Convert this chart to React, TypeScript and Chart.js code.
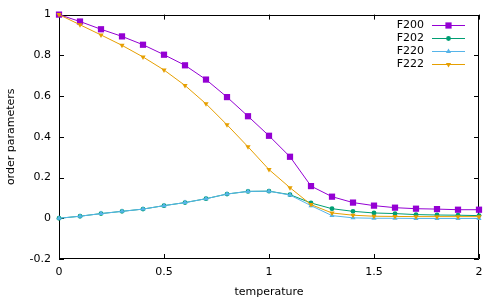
import React, { useEffect, useRef } from "react";
import { Chart, registerables } from "chart.js";

Chart.register(...registerables);

const temperature = [0, 0.1, 0.2, 0.3, 0.4, 0.5, 0.6, 0.7, 0.8, 0.9, 1.0, 1.1, 1.2, 1.3, 1.4, 1.5, 1.6, 1.7, 1.8, 1.9, 2.0];
const F200 = [1.0, 0.966, 0.928, 0.893, 0.852, 0.803, 0.751, 0.681, 0.595, 0.501, 0.405, 0.302, 0.158, 0.106, 0.077, 0.062, 0.052, 0.047, 0.045, 0.042, 0.042];
const F202 = [0, 0.010, 0.023, 0.034, 0.045, 0.062, 0.077, 0.096, 0.119, 0.132, 0.133, 0.116, 0.075, 0.047, 0.034, 0.026, 0.023, 0.018, 0.016, 0.015, 0.013];
const F220 = [0, 0.010, 0.023, 0.034, 0.045, 0.062, 0.077, 0.096, 0.119, 0.132, 0.133, 0.114, 0.062, 0.013, 0.002, 0.0, 0.0, -0.001, -0.001, -0.001, -0.001];
const F222 = [1.0, 0.95, 0.90, 0.849, 0.792, 0.728, 0.652, 0.562, 0.459, 0.351, 0.239, 0.150, 0.067, 0.026, 0.015, 0.010, 0.009, 0.008, 0.008, 0.008, 0.008];

const seriesNames = ["F200", "F202", "F220", "F222"];
const seriesValues = [F200, F202, F220, F222];
const seriesColors = ["#9400d3", "#009e73", "#56b4e9", "#e69f00"];
const seriesMarkers = ["rect", "circle", "triangle", "triangle"];
const seriesRotation = [0, 0, 0, 180];
const seriesRadius = [4.4, 2.4, 3, 3];

const xTicks = [0, 0.5, 1, 1.5, 2];
const yTicks = [-0.2, 0, 0.2, 0.4, 0.6, 0.8, 1];

const FONT = "DejaVu Sans";

function drawMarker(ctx: CanvasRenderingContext2D, kind: string, rot: number, r: number, x: number, y: number, color: string) {
  ctx.save();
  ctx.fillStyle = color;
  ctx.beginPath();
  if (kind === "rect") {
    const s = Math.SQRT1_2 * r;
    ctx.rect(x - s, y - s, 2 * s, 2 * s);
  } else if (kind === "circle") {
    ctx.arc(x, y, r, 0, Math.PI * 2);
  } else {
    let rad = (rot * Math.PI) / 180;
    ctx.moveTo(x + Math.sin(rad) * r, y - Math.cos(rad) * r);
    rad += (2 * Math.PI) / 3;
    ctx.lineTo(x + Math.sin(rad) * r, y - Math.cos(rad) * r);
    rad += (2 * Math.PI) / 3;
    ctx.lineTo(x + Math.sin(rad) * r, y - Math.cos(rad) * r);
    ctx.closePath();
  }
  ctx.fill();
  ctx.restore();
}

const framePlugin = {
  id: "gnuframe",
  beforeDatasetsDraw(chart: any) {
    const { ctx, chartArea } = chart;
    const { left, right, top, bottom } = chartArea;
    const xs = chart.scales.x;
    const ys = chart.scales.y;
    const tl = 5;
    ctx.save();
    ctx.strokeStyle = "#000";
    ctx.lineWidth = 1;
    ctx.beginPath();
    ctx.rect(Math.round(left) + 0.5, Math.round(top) + 0.5, Math.round(right - left) - 1, Math.round(bottom - top) - 1);
    ctx.stroke();
    ctx.beginPath();
    for (const v of xTicks) {
      const px = Math.round(xs.getPixelForValue(v)) + 0.5;
      ctx.moveTo(px, bottom);
      ctx.lineTo(px, bottom - tl);
      ctx.moveTo(px, top);
      ctx.lineTo(px, top + tl);
    }
    for (const v of yTicks) {
      const py = Math.round(ys.getPixelForValue(v)) + 0.5;
      ctx.moveTo(left, py);
      ctx.lineTo(left + tl, py);
      ctx.moveTo(right, py);
      ctx.lineTo(right - tl, py);
    }
    ctx.stroke();
    ctx.restore();
  },
  afterDatasetsDraw(chart: any) {
    const { ctx } = chart;
    ctx.save();
    ctx.font = `11px "${FONT}"`;
    ctx.textAlign = "right";
    ctx.textBaseline = "middle";
    for (let i = 0; i < seriesNames.length; i++) {
      const y = 25 + i * 12.9;
      ctx.fillStyle = "#000";
      ctx.fillText(seriesNames[i], 424, y);
      ctx.strokeStyle = seriesColors[i];
      ctx.lineWidth = 1;
      ctx.beginPath();
      ctx.moveTo(432, Math.round(y) + 0.5);
      ctx.lineTo(465, Math.round(y) + 0.5);
      ctx.stroke();
      drawMarker(ctx, seriesMarkers[i], seriesRotation[i], seriesRadius[i], 448.5, Math.round(y) + 0.5, seriesColors[i]);
    }
    ctx.restore();
  },
};

export default function App() {
  const ref = useRef<HTMLCanvasElement | null>(null);
  useEffect(() => {
    if (!ref.current) return;
    const datasets = seriesNames.map((name, i) => ({
      label: name,
      data: temperature.map((t, j) => ({ x: t, y: seriesValues[i][j] })),
      borderColor: seriesColors[i],
      backgroundColor: seriesColors[i],
      borderWidth: 1,
      pointStyle: seriesMarkers[i] as any,
      pointRotation: seriesRotation[i],
      pointRadius: seriesRadius[i],
      pointBorderWidth: 0,
      pointHoverRadius: seriesRadius[i],
      tension: 0,
      fill: false,
      clip: false as any,
      order: seriesNames.length - 1 - i,
    }));
    const chart = new Chart(ref.current, {
      type: "line",
      data: { datasets },
      plugins: [framePlugin],
      options: {
        animation: false,
        responsive: false,
        devicePixelRatio: 1,
        layout: { padding: { top: 13, right: 21, left: 0, bottom: 0 } },
        plugins: { legend: { display: false }, tooltip: { enabled: false } },
        scales: {
          x: {
            type: "linear",
            min: 0,
            max: 2,
            afterFit: (s: any) => { s.height = 41; },
            afterBuildTicks: (s: any) => { s.ticks = xTicks.map((v) => ({ value: v })); },
            grid: { display: false, drawTicks: false },
            border: { display: false },
            ticks: {
              padding: 7,
              color: "#000",
              font: { family: FONT, size: 11, lineHeight: 1.2 },
              callback: (v: any) => String(Math.round(Number(v) * 10) / 10),
              maxRotation: 0,
            },
            title: {
              display: true,
              text: "temperature",
              color: "#000",
              font: { family: FONT, size: 11, lineHeight: 1.2 },
              padding: { top: 0, bottom: 1 },
            },
          },
          y: {
            type: "linear",
            min: -0.2,
            max: 1,
            afterFit: (s: any) => { s.width = 59; },
            afterBuildTicks: (s: any) => { s.ticks = yTicks.map((v) => ({ value: v })); },
            grid: { display: false, drawTicks: false },
            border: { display: false },
            ticks: {
              padding: 8,
              color: "#000",
              font: { family: FONT, size: 11, lineHeight: 1.2 },
              callback: (v: any) => String(Math.round(Number(v) * 10) / 10),
            },
            title: {
              display: true,
              text: "order parameters",
              color: "#000",
              font: { family: FONT, size: 11, lineHeight: 1.2 },
              padding: { top: 5, bottom: 0 },
            },
          },
        },
      },
    });
    return () => chart.destroy();
  }, []);
  return (
    <div style={{ position: "fixed", left: 0, top: 0, width: 500, height: 300, background: "#fff" }}>
      <canvas ref={ref} width={500} height={300} style={{ width: 500, height: 300, display: "block" }} />
    </div>
  );
}
